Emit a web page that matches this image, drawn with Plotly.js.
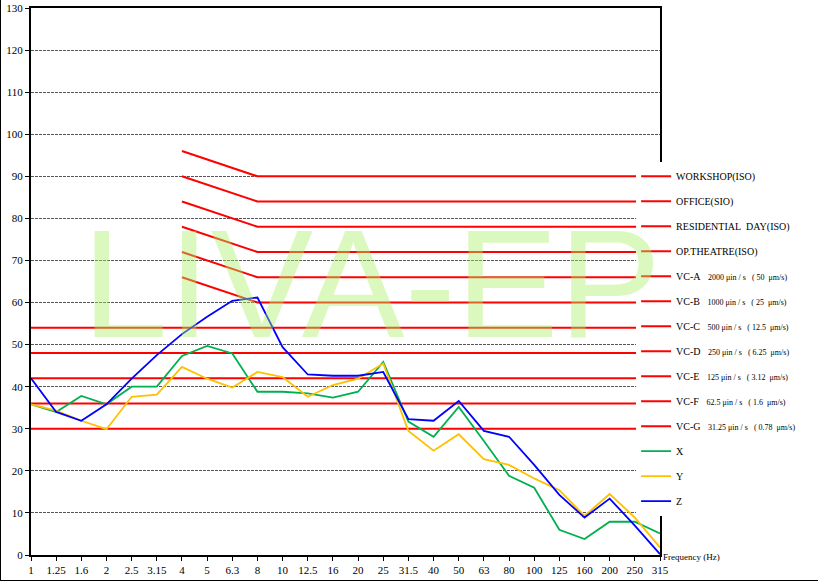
<!DOCTYPE html>
<html>
<head>
<meta charset="utf-8">
<script src="https://cdn.plot.ly/plotly-3.0.1.min.js"></script>
<style>
  body { margin: 0; }
  #wrap { position: relative; width: 818px; height: 581px; }
  #frame { position: absolute; left: 0; top: 0; width: 817px; height: 580px;
           border-left: 1px solid #000; border-bottom: 1px solid #000; pointer-events: none; }
</style>
</head>
<body>
<div id="wrap">
  <div id="chart" style="width:818px;height:581px;"></div>
  <div id="frame"></div>
</div>
<script>
// 1/3 octave band centre frequencies
var freqs = ['1', '1.25', '1.6', '2', '2.5', '3.15', '4', '5', '6.3', '8', '10', '12.5', '16',
             '20', '25', '31.5', '40', '50', '63', '80', '100', '125', '160', '200', '250', '315'];

// measured velocity levels (dB)
var xVals = [35.8, 34.0, 37.8, 35.8, 40.0, 40.0, 47.3, 49.7, 47.9, 38.8, 38.8, 38.4, 37.4,
             38.8, 45.9, 31.7, 28.1, 35.2, 27.1, 18.8, 16.0, 6.0, 3.8, 7.9, 7.9, 5.1];
var yVals = [35.8, 34.3, 31.9, 29.9, 37.6, 38.1, 44.7, 41.9, 39.8, 43.5, 42.3, 37.6, 40.4,
             41.9, 45.5, 29.5, 24.8, 28.7, 22.8, 21.4, 18.2, 15.4, 9.3, 14.5, 8.9, 1.8];
var zVals = [42.0, 34.0, 31.9, 35.8, 41.9, 47.5, 52.5, 56.6, 60.4, 61.2, 49.4, 42.9, 42.6,
             42.6, 43.5, 32.3, 31.9, 36.6, 29.5, 28.1, 21.4, 14.3, 8.9, 13.4, 7.0, 0.2];

// criteria curves: sloped from 4 Hz to 8 Hz, then flat
var slopedNames = ['WORKSHOP(ISO)', 'OFFICE(SIO)', 'RESIDENTIAL\u00a0\u00a0DAY(ISO)', 'OP.THEATRE(ISO)', 'VC-A', 'VC-B'];
var slopedAt4Hz = [96, 90, 84, 78, 72, 66];
var slopedLevel = [90, 84, 78, 72, 66, 60];
// flat criteria
var flatNames = ['VC-C', 'VC-D', 'VC-E', 'VC-F', 'VC-G'];
var flatLevel = [54, 48, 42, 36, 30];

// extra legend text for VC curves
var vcNotes = {
  'VC-A': '2000 \u03bcin / s \u00a0\u00a0( 50 \u00a0\u03bcm/s)',
  'VC-B': '1000 \u03bcin / s \u00a0\u00a0( 25 \u00a0\u03bcm/s)',
  'VC-C': '500 \u03bcin / s \u00a0\u00a0( 12.5 \u00a0\u03bcm/s)',
  'VC-D': '250 \u03bcin / s \u00a0\u00a0( 6.25 \u00a0\u03bcm/s)',
  'VC-E': '125 \u03bcin / s \u00a0\u00a0( 3.12 \u00a0\u03bcm/s)',
  'VC-F': '62.5 \u03bcin / s \u00a0\u00a0( 1.6 \u00a0\u03bcm/s)',
  'VC-G': '31.25 \u03bcin / s \u00a0\u00a0( 0.78 \u00a0\u03bcm/s)'
};

function label(name) {
  if (vcNotes[name]) {
    return name + '\u00a0\u00a0\u00a0<span style="font-size:8px">' + vcNotes[name] + '</span>';
  }
  return name;
}

var data = [];
var last = freqs[freqs.length - 1];

slopedNames.forEach(function (n, i) {
  data.push({
    x: ['4', '8', last],
    y: [slopedAt4Hz[i], slopedLevel[i], slopedLevel[i]],
    name: label(n), legendgroup: 'g' + data.length,
    type: 'scatter', mode: 'lines',
    line: {color: '#ff0000', width: 2}
  });
});
flatNames.forEach(function (n, i) {
  data.push({
    x: [freqs[0], last],
    y: [flatLevel[i], flatLevel[i]],
    name: label(n), legendgroup: 'g' + data.length,
    type: 'scatter', mode: 'lines',
    line: {color: '#ff0000', width: 2}
  });
});

var series = [['X', xVals, '#00b050'], ['Y', yVals, '#ffc000'], ['Z', zVals, '#0000ff']];
series.forEach(function (s) {
  data.push({
    x: freqs, y: s[1], name: s[0], legendgroup: 'g' + data.length,
    type: 'scatter', mode: 'lines',
    line: {color: s[2], width: 1.8}
  });
});

var serif = '"Liberation Serif", "Times New Roman", serif';

var layout = {
  width: 818, height: 581,
  margin: {l: 31, r: 158, t: 8, b: 26},
  paper_bgcolor: '#ffffff', plot_bgcolor: '#ffffff',
  font: {family: serif, size: 11, color: '#000'},
  showlegend: true,
  legend: {
    x: 0.962, xanchor: 'left', y: 0.719, yanchor: 'top',
    bgcolor: '#ffffff', borderwidth: 0,
    font: {family: serif, size: 10, color: '#000'},
    traceorder: 'grouped', tracegroupgap: 6, itemwidth: 30
  },
  xaxis: {
    type: 'category', categoryorder: 'array', categoryarray: freqs,
    range: [0, freqs.length - 1],
    showline: true, linecolor: '#000', linewidth: 2, mirror: true,
    ticks: 'outside', ticklen: 4, tickcolor: '#000', tickwidth: 1,
    showgrid: false, zeroline: false,
    tickfont: {family: serif, size: 11, color: '#000'}
  },
  yaxis: {
    range: [0, 130], dtick: 10,
    showline: true, linecolor: '#000', linewidth: 2, mirror: true,
    ticks: 'outside', ticklen: 4, tickcolor: '#000', tickwidth: 1,
    showgrid: true, gridcolor: '#555', gridwidth: 1, griddash: '3px,1px',
    zeroline: false,
    tickfont: {family: serif, size: 11, color: '#000'}
  },
  annotations: [
    {
      text: 'LIVA-EP', xref: 'paper', yref: 'paper', x: 0.541, y: 0.495,
      xanchor: 'center', yanchor: 'middle', showarrow: false,
      font: {family: '"Liberation Sans", Arial, sans-serif', size: 154, color: 'rgba(170,240,100,0.42)'}
    },
    {
      text: 'Frequency (Hz)', xref: 'paper', yref: 'paper', x: 1, y: 0,
      xanchor: 'left', yanchor: 'middle', xshift: 1, yshift: -2, showarrow: false,
      font: {family: serif, size: 9, color: '#000'}
    }
  ]
};

Plotly.newPlot('chart', data, layout, {displayModeBar: false});
</script>
</body>
</html>
